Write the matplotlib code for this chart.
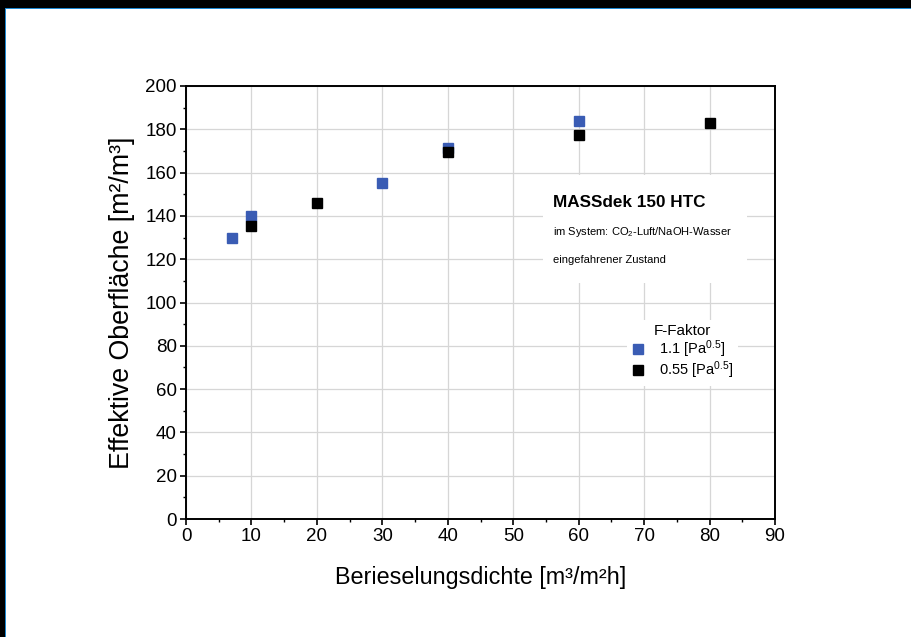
import matplotlib
matplotlib.use("Agg")
import matplotlib.pyplot as plt
from matplotlib.patches import Rectangle
from matplotlib.ticker import MultipleLocator

plt.rcParams['font.family'] = ['Liberation Sans', 'DejaVu Sans']
plt.rcParams['mathtext.fontset'] = 'custom'
plt.rcParams['mathtext.rm'] = 'Liberation Sans'
plt.rcParams['mathtext.it'] = 'Liberation Sans'

# data
x_11 = [7, 10, 30, 40, 60]
y_11 = [130, 140, 155, 171.5, 184]
x_055 = [10, 20, 40, 60, 80]
y_055 = [135.5, 146, 169.5, 177.5, 183]

label_11 = '1.1 [Pa$^{0.5}$]'
label_055 = '0.55 [Pa$^{0.5}$]'

fig = plt.figure(figsize=(9.11, 6.37), dpi=100)
ax = fig.add_axes([0.2042, 0.1852, 0.6465, 0.6798])

# frame of the screenshot (black strip top/left with thin blue line)
fig.patches.append(Rectangle((0, 1 - 8/637), 1, 8/637, transform=fig.transFigure,
                             facecolor='black', edgecolor='none'))
fig.patches.append(Rectangle((0, 1 - 9/637), 1, 1/637, transform=fig.transFigure,
                             facecolor='#1e88d0', edgecolor='none'))
fig.patches.append(Rectangle((0, 0), 5/911, 1, transform=fig.transFigure,
                             facecolor='black', edgecolor='none'))
fig.patches.append(Rectangle((5/911, 0), 1/911, 1 - 8/637, transform=fig.transFigure,
                             facecolor='#1e88d0', edgecolor='none'))

ax.plot(x_11, y_11, 's', color='#3a5cb4', markersize=7, label=label_11, zorder=3)
ax.plot(x_055, y_055, 's', color='black', markersize=7, label=label_055, zorder=3)

ax.set_xlim(0, 90)
ax.set_ylim(0, 200)
ax.xaxis.set_major_locator(MultipleLocator(10))
ax.xaxis.set_minor_locator(MultipleLocator(5))
ax.yaxis.set_major_locator(MultipleLocator(20))
ax.yaxis.set_minor_locator(MultipleLocator(10))
ax.tick_params(which='major', direction='out', length=4.5, width=1.2, labelsize=13.5,
               pad=2, top=False, right=False)
ax.tick_params(which='minor', direction='out', length=2.5, width=1.0, top=False, right=False)

ax.set_axisbelow(True)
ax.grid(True, which='major', color='#d6d6d6', linewidth=0.9)
for s in ax.spines.values():
    s.set_linewidth(1.4)

ax.set_xlabel('Berieselungsdichte [m³/m²h]', fontsize=16.8, labelpad=15)
ax.set_ylabel('Effektive Oberfläche [m²/m³]', fontsize=19.3, labelpad=7.5)

# white box behind the description text
ax.add_patch(Rectangle((0.606, 0.545), 0.346, 0.249, transform=ax.transAxes,
                       facecolor='white', edgecolor='none', zorder=1))
ax.text(0.623, 0.730, 'MASSdek 150 HTC', transform=ax.transAxes, fontsize=12.3,
        fontweight='bold', va='center', ha='left', zorder=4)
ax.text(0.623, 0.663, 'im System: CO$_2$-Luft/NaOH-Wasser', transform=ax.transAxes,
        fontsize=8, va='center', ha='left', zorder=4)
ax.text(0.623, 0.598, 'eingefahrener Zustand', transform=ax.transAxes,
        fontsize=8, va='center', ha='left', zorder=4)

leg = ax.legend(loc='upper left', bbox_to_anchor=(0.737, 0.477), frameon=True,
                title='F-Faktor', fontsize=10.5, title_fontsize=11,
                handlelength=0.8, handletextpad=1.1, labelspacing=0.0,
                borderpad=0.3, fancybox=False)
leg.get_frame().set_facecolor('white')
leg.get_frame().set_edgecolor('none')
leg.get_frame().set_alpha(1)

fig.savefig('out.png', dpi=100, facecolor='white')
